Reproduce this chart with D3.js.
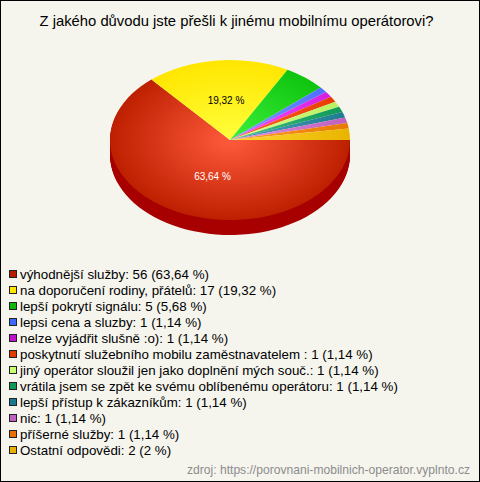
<!DOCTYPE html>
<html><head><meta charset="utf-8">
<script src="https://cdnjs.cloudflare.com/ajax/libs/d3/7.8.5/d3.min.js"></script>
<style>html,body{margin:0;padding:0;background:#fff}svg{display:block}</style>
</head><body><svg id="c" width="480" height="482"></svg>
<script>
const titleText = "Z jakého důvodu jste přešli k jinému mobilnímu operátorovi?";
const sourceText = "zdroj: https://porovnani-mobilnich-operator.vyplnto.cz";
const categories = ["výhodnější služby","na doporučení rodiny, přátelů","lepší pokrytí signálu","lepsi cena a sluzby","nelze vyjádřit slušně :o)","poskytnutí služebního mobilu zaměstnavatelem ","jiný operátor sloužil jen jako doplnění mých souč.","vrátila jsem se zpět ke svému oblíbenému operátoru","lepší přístup k zákazníkům","nic","příšerné služby","Ostatní odpovědi"];
const counts = [56,17,5,1,1,1,1,1,1,1,1,2];
const percentLabels = ["63,64 %","19,32 %","5,68 %","1,14 %","1,14 %","1,14 %","1,14 %","1,14 %","1,14 %","1,14 %","1,14 %","2 %"];
const edgeColors = ["#bd2000","#ffe600","#0fc40f","#4f6fff","#d41fe0","#e83c00","#b8f060","#109a58","#1f7c90","#c060c0","#e87800","#e8b400"];
const centerColors = ["#ff5a3c","#ffff3c","#3cf03c","#7f9fff","#ff50ff","#ff6a30","#e0ff90","#40c080","#50a0c0","#e090e0","#ffa030","#ffd830"];
const legendColors = ["#b81c00","#ffe600","#0cb80c","#3f66ff","#c010d0","#e03c00","#c8ff70","#0c9a58","#1a7890","#c060c0","#e87000","#e8b000"];
const sideColor = "#a80000";

const W=480,H=482,cx=230,cy=140,rx=120,ry=80,depth=15;
const svg=d3.select("#c");
svg.append("rect").attr("x",.5).attr("y",.5).attr("width",W-1).attr("height",H-1).attr("fill","#f5f5ee").attr("stroke","#000");
svg.append("text").attr("x",236.5).attr("y",26).attr("text-anchor","middle").attr("font-family","Liberation Sans").attr("font-size",14.8).attr("fill","#000").text(titleText);

const pie=d3.pie().sort(null).startAngle(Math.PI/2).endAngle(Math.PI/2+2*Math.PI);
const arcs=pie(counts);
const arc=d3.arc().innerRadius(0).outerRadius(rx);
const defs=svg.append("defs");
arcs.forEach((a,i)=>{
  const g=defs.append("radialGradient").attr("id","g"+i).attr("gradientUnits","userSpaceOnUse").attr("cx",0).attr("cy",0).attr("r",rx);
  g.append("stop").attr("offset",0).attr("stop-color",centerColors[i]);
  g.append("stop").attr("offset",1).attr("stop-color",edgeColors[i]);
});
const scaleY=ry/rx;
const side=svg.append("g");
d3.range(depth,0,-1).forEach(d=>{
  side.append("g").attr("transform",`translate(${cx},${cy+d}) scale(1,${scaleY})`)
    .append("path").attr("d",arc(arcs[0])).attr("fill",sideColor);
});
const face=svg.append("g").attr("transform",`translate(${cx},${cy}) scale(1,${scaleY})`);
face.selectAll("path").data(arcs).join("path").attr("d",arc).attr("fill",(d,i)=>`url(#g${i})`);

const lab=svg.append("g").attr("font-family","Liberation Sans").attr("font-size",10).attr("text-anchor","middle");
[0,1].forEach(i=>{
  lab.append("text").attr("x",i===0?212.5:226).attr("y",i===0?180:104).attr("fill",i===0?"#fff":"#000").text(percentLabels[i]);
});

const yPos=d3.scalePoint().domain(d3.range(categories.length)).range([274,450]);
const leg=svg.append("g").selectAll("g").data(categories).join("g").attr("transform",(d,i)=>`translate(0,${yPos(i)})`);
leg.append("rect").attr("x",9.5).attr("y",-3.5).attr("width",7).attr("height",7).attr("fill",(d,i)=>legendColors[i]).attr("stroke","#222");
leg.append("text").attr("x",20).attr("y",5).attr("font-family","Liberation Sans").attr("font-size",13.33).attr("fill","#000")
  .text((d,i)=>`${d}: ${counts[i]} (${percentLabels[i]})`);
svg.append("text").attr("x",470).attr("y",474).attr("text-anchor","end").attr("font-family","Liberation Sans").attr("font-size",12.1).attr("fill","#8c8c8c").text(sourceText);
</script></body></html>
